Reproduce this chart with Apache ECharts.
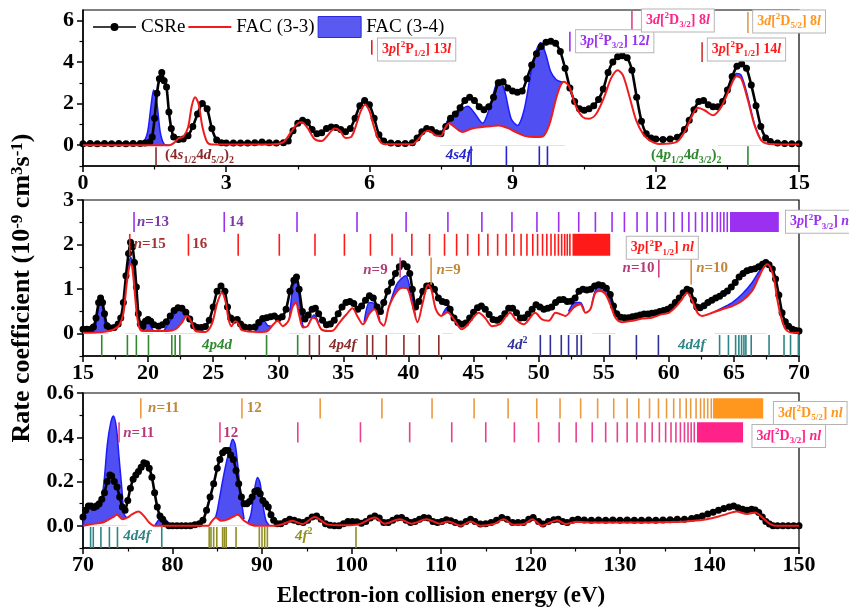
<!DOCTYPE html>
<html>
<head>
<meta charset="utf-8">
<title>Rate coefficient</title>
<script src="https://cdn.jsdelivr.net/npm/echarts@6.0.0/dist/echarts.min.js"></script>
<style>
  html, body { margin: 0; padding: 0; background: #fff; }
  #chart { width: 849px; height: 609px; }
</style>
</head>
<body>
<div id="chart"></div>
<script>
var FONT = '"Liberation Serif", "Times New Roman", serif';

// ---------- panel 1 : 0-15 eV ----------
var p1Csre = [[0,0.07],[0.15,0.08],[0.3,0.07],[0.45,0.08],[0.6,0.07],[0.75,0.08],[0.9,0.07],[1.05,0.08],[1.2,0.08],[1.3,0.1],[1.4,0.15],[1.45,0.4],[1.5,1.3],[1.55,2.5],[1.6,3.2],[1.65,3.5],[1.7,3.1],[1.75,2.8],[1.8,1.6],[1.85,0.8],[1.9,0.4],[2.0,0.28],[2.1,0.3],[2.2,0.45],[2.3,0.9],[2.4,1.5],[2.5,2.0],[2.6,1.75],[2.7,0.8],[2.8,0.25],[2.9,0.12],[3.0,0.1],[3.15,0.1],[3.3,0.1],[3.45,0.11],[3.6,0.12],[3.75,0.15],[3.9,0.12],[4.05,0.1],[4.2,0.12],[4.3,0.2],[4.4,0.7],[4.5,1.05],[4.6,1.2],[4.7,1.1],[4.8,0.75],[4.9,0.55],[5.0,0.6],[5.1,0.8],[5.2,0.88],[5.3,0.85],[5.4,0.75],[5.5,0.65],[5.6,0.8],[5.7,1.3],[5.8,1.9],[5.9,2.15],[6.0,1.95],[6.1,1.3],[6.2,0.5],[6.3,0.2],[6.45,0.1],[6.6,0.08],[6.75,0.08],[6.9,0.12],[7.0,0.35],[7.1,0.65],[7.2,0.8],[7.3,0.75],[7.4,0.6],[7.5,0.55],[7.6,0.9],[7.7,1.3],[7.8,1.5],[7.9,1.8],[8.0,2.15],[8.1,2.3],[8.2,2.15],[8.3,1.85],[8.4,1.7],[8.5,1.85],[8.6,2.3],[8.7,3.0],[8.8,3.05],[8.9,2.75],[9.0,2.6],[9.1,2.55],[9.2,2.6],[9.3,3.2],[9.4,3.85],[9.5,4.4],[9.6,4.75],[9.7,4.95],[9.8,5.0],[9.9,4.9],[10.0,4.5],[10.1,3.7],[10.2,2.75],[10.3,2.1],[10.4,1.75],[10.5,1.68],[10.6,1.75],[10.7,1.9],[10.8,2.2],[10.9,2.7],[11.0,3.5],[11.1,4.0],[11.2,4.25],[11.3,4.3],[11.4,4.2],[11.5,3.6],[11.6,2.3],[11.7,1.15],[11.8,0.55],[11.9,0.35],[12.0,0.3],[12.15,0.28],[12.3,0.3],[12.45,0.38],[12.6,0.75],[12.7,1.2],[12.8,1.7],[12.9,2.1],[13.0,2.15],[13.1,1.95],[13.2,1.85],[13.3,1.85],[13.4,2.1],[13.5,2.65],[13.6,3.3],[13.7,3.8],[13.8,3.9],[13.9,3.7],[14.0,2.9],[14.1,1.9],[14.2,0.9],[14.3,0.35],[14.4,0.18],[14.55,0.1],[14.7,0.08],[14.85,0.07],[15,0.07]];
var p1Fac33 = [[0,0],[1.8,0],[1.9,0.1],[2.0,0.33],[2.1,0.4],[2.2,0.85],[2.28,1.9],[2.35,2.3],[2.42,2.0],[2.5,0.9],[2.6,0.15],[2.7,0.03],[3.5,0.03],[4.0,0.05],[4.2,0.15],[4.35,0.6],[4.5,1.05],[4.58,1.1],[4.7,0.85],[4.85,0.3],[5.0,0.2],[5.12,0.45],[5.27,0.8],[5.38,0.7],[5.5,0.35],[5.62,0.4],[5.72,0.95],[5.82,1.65],[5.91,1.95],[6.0,1.65],[6.1,0.85],[6.2,0.25],[6.32,0.05],[6.9,0.05],[7.02,0.28],[7.15,0.62],[7.25,0.7],[7.38,0.48],[7.5,0.45],[7.58,0.8],[7.67,1.05],[7.77,0.9],[7.95,0.63],[8.15,0.8],[8.37,0.87],[8.72,0.95],[8.9,0.82],[9.07,0.63],[9.25,0.45],[9.45,0.39],[9.63,0.42],[9.77,1.0],[9.9,2.15],[10.0,2.85],[10.08,3.05],[10.19,2.8],[10.33,1.84],[10.47,1.35],[10.6,1.27],[10.75,1.5],[10.92,2.32],[11.06,3.2],[11.2,3.6],[11.31,3.37],[11.45,2.32],[11.59,1.19],[11.73,0.55],[11.87,0.23],[12.07,0.06],[12.43,0.15],[12.6,0.63],[12.78,1.5],[12.88,1.8],[13.02,1.68],[13.2,1.44],[13.37,1.84],[13.55,2.73],[13.69,3.32],[13.79,3.2],[13.93,2.16],[14.07,0.95],[14.21,0.23],[14.38,0.06],[15,0.03]];
var p1Fac34 = [[1.1,0],[1.25,0.1],[1.35,0.6],[1.42,1.8],[1.48,2.65],[1.55,2.0],[1.62,0.6],[1.7,0.05],[1.8,0],[1.85,'-'],
  [7.48,0.45],[7.6,1.0],[7.67,1.3],[7.84,1.5],[7.95,1.75],[8.06,1.87],[8.2,1.55],[8.37,1.06],[8.51,1.75],[8.65,2.89],[8.72,3.13],[8.83,2.64],[8.97,1.27],[9.1,0.95],[9.24,1.68],[9.38,3.44],[9.5,4.58],[9.59,4.94],[9.7,4.34],[9.8,3.53],[9.91,3.16],[10.01,3.05],[10.1,3.02],[10.15,'-'],
  [13.3,1.6],[13.45,2.2],[13.55,2.8],[13.69,3.45],[13.79,3.36],[13.93,2.3],[14.07,1.0],[14.2,0.25]];
var p1Res4s4d = [1.53];
var p1Res4s4f = [8.13, 8.87, 9.56, 9.73];
var p1Res4p4d = [13.93];
var p1Res3p12n13 = [6.05];
var p1Res3p32n12 = [10.2];
var p1Res3d32n8 = [11.5];
var p1Res3p12n14 = [12.97];
var p1Res3d52n8 = [13.93];
var p1YTicks = [0, 2, 4, 6];
var p1YMinor = [-1, 1, 3, 5];

// ---------- panel 2 : 15-70 eV ----------
var p2Csre = [[15,0.1],[15.3,0.1],[15.6,0.1],[15.8,0.15],[16.0,0.35],[16.2,0.7],[16.35,0.8],[16.5,0.7],[16.65,0.45],[16.85,0.18],[17.1,0.13],[17.4,0.14],[17.7,0.22],[17.9,0.35],[18.1,0.7],[18.3,1.3],[18.5,1.8],[18.65,2.05],[18.8,1.95],[18.95,1.6],[19.1,1.05],[19.25,0.45],[19.4,0.22],[19.6,0.17],[19.8,0.28],[20.0,0.32],[20.2,0.28],[20.45,0.2],[20.8,0.17],[21.1,0.2],[21.4,0.27],[21.7,0.4],[22.0,0.52],[22.3,0.58],[22.6,0.57],[22.9,0.48],[23.2,0.33],[23.5,0.18],[23.8,0.14],[24.1,0.14],[24.4,0.16],[24.7,0.3],[25.0,0.6],[25.3,0.95],[25.6,1.07],[25.9,0.95],[26.1,0.6],[26.35,0.35],[26.6,0.3],[26.85,0.32],[27.1,0.22],[27.4,0.15],[27.8,0.14],[28.2,0.15],[28.5,0.25],[28.8,0.34],[29.1,0.36],[29.4,0.38],[29.7,0.4],[30.0,0.34],[30.3,0.38],[30.6,0.55],[30.9,0.95],[31.2,1.2],[31.4,1.27],[31.6,1.0],[31.85,0.5],[32.05,0.33],[32.3,0.42],[32.6,0.55],[32.85,0.57],[33.1,0.45],[33.4,0.3],[33.7,0.2],[34.0,0.22],[34.3,0.3],[34.6,0.45],[34.9,0.6],[35.2,0.7],[35.5,0.72],[35.8,0.68],[36.1,0.55],[36.4,0.62],[36.7,0.75],[37.0,0.85],[37.3,0.8],[37.6,0.6],[37.85,0.5],[38.1,0.7],[38.4,0.95],[38.7,1.15],[39.0,1.35],[39.3,1.5],[39.6,1.57],[39.9,1.5],[40.1,1.35],[40.3,1.0],[40.55,0.6],[40.8,0.72],[41.1,0.95],[41.4,1.07],[41.7,1.08],[42.0,1.0],[42.3,0.8],[42.6,0.72],[42.9,0.7],[43.2,0.55],[43.5,0.35],[43.8,0.25],[44.1,0.21],[44.4,0.24],[44.7,0.35],[45.0,0.48],[45.3,0.58],[45.6,0.62],[45.9,0.55],[46.2,0.43],[46.5,0.32],[46.8,0.3],[47.1,0.34],[47.4,0.45],[47.7,0.57],[48.0,0.57],[48.3,0.47],[48.6,0.35],[48.9,0.36],[49.2,0.44],[49.5,0.55],[49.8,0.65],[50.1,0.6],[50.4,0.55],[50.7,0.57],[51.0,0.6],[51.3,0.7],[51.6,0.76],[51.9,0.77],[52.2,0.72],[52.5,0.73],[52.8,0.8],[53.1,0.95],[53.4,1.0],[53.7,0.98],[54.0,1.0],[54.3,1.07],[54.6,1.1],[54.9,1.08],[55.2,1.02],[55.5,0.88],[55.75,0.62],[56.0,0.45],[56.3,0.37],[56.6,0.36],[56.9,0.36],[57.2,0.38],[57.5,0.4],[57.8,0.42],[58.1,0.44],[58.4,0.44],[58.7,0.46],[59.0,0.47],[59.3,0.5],[59.6,0.52],[59.9,0.55],[60.2,0.6],[60.5,0.7],[60.8,0.8],[61.1,0.92],[61.4,1.0],[61.65,0.97],[61.9,0.75],[62.15,0.6],[62.4,0.58],[62.7,0.63],[63.0,0.7],[63.3,0.75],[63.6,0.8],[63.9,0.84],[64.2,0.9],[64.5,0.96],[64.8,1.05],[65.1,1.15],[65.4,1.27],[65.7,1.35],[66.0,1.41],[66.3,1.44],[66.6,1.46],[66.9,1.5],[67.2,1.56],[67.45,1.6],[67.7,1.55],[67.95,1.45],[68.2,1.23],[68.45,0.87],[68.7,0.47],[68.95,0.27],[69.2,0.17],[69.5,0.1],[69.75,0.07],[70,0.06]];
var p2Fac33 = [[15,0.02],[16.0,0.03],[16.8,0.05],[17.4,0.1],[17.8,0.2],[18.1,0.45],[18.35,1.1],[18.55,1.5],[18.67,1.57],[18.8,1.45],[19.0,0.85],[19.15,0.4],[19.35,0.12],[19.6,0.06],[21.5,0.06],[22.1,0.1],[22.6,0.25],[22.95,0.4],[23.1,0.38],[23.35,0.25],[23.65,0.06],[24.4,0.04],[24.9,0.22],[25.3,0.68],[25.67,0.92],[25.95,0.72],[26.2,0.3],[26.4,0.17],[26.7,0.28],[26.95,0.22],[27.2,0.08],[28.5,0.04],[29.1,0.05],[29.6,0.2],[29.95,0.29],[30.35,0.17],[30.8,0.3],[31.1,0.6],[31.35,0.7],[31.6,0.42],[31.9,0.14],[32.25,0.17],[32.65,0.36],[32.9,0.33],[33.3,0.1],[33.8,0.06],[34.2,0.07],[34.7,0.25],[35.2,0.42],[35.7,0.57],[36.1,0.38],[36.5,0.21],[37.0,0.45],[37.4,0.55],[37.8,0.27],[38.1,0.18],[38.5,0.6],[39.05,0.92],[39.55,1.03],[39.95,1.0],[40.3,0.65],[40.7,0.26],[41.1,0.7],[41.5,1.1],[41.75,1.0],[42.1,0.55],[42.5,0.4],[43.0,0.48],[43.5,0.32],[44.1,0.1],[44.6,0.22],[45.4,0.47],[45.9,0.35],[46.4,0.17],[47.05,0.22],[47.8,0.47],[48.3,0.3],[48.85,0.21],[49.74,0.47],[50.26,0.32],[50.77,0.29],[51.3,0.47],[51.67,0.44],[52.05,0.4],[52.7,0.59],[53.2,0.66],[53.6,0.47],[53.97,0.55],[54.36,0.92],[54.74,0.96],[55.13,0.89],[55.5,0.66],[55.9,0.36],[56.4,0.26],[57.2,0.29],[57.95,0.34],[58.7,0.36],[59.5,0.44],[60.0,0.47],[60.5,0.59],[61.0,0.77],[61.4,0.92],[61.8,0.74],[62.2,0.47],[62.56,0.4],[63.33,0.47],[64.1,0.55],[64.87,0.62],[65.64,0.74],[66.4,0.96],[66.9,1.26],[67.3,1.49],[67.56,1.56],[67.8,1.49],[68.08,1.23],[68.33,0.77],[68.6,0.4],[68.97,0.1],[69.5,0.02],[70,0.02]];
var p2Fac34 = [[15.8,0.03],[16.0,0.2],[16.2,0.6],[16.36,0.74],[16.55,0.5],[16.75,0.15],[17.0,0.05],[17.1,'-'],
  [18.25,0.85],[18.45,1.45],[18.67,1.71],[18.85,1.5],[19.05,0.7],[19.1,'-'],
  [19.6,0.06],[19.8,0.2],[19.95,0.29],[20.15,0.2],[20.4,0.06],[20.5,'-'],
  [21.2,0.06],[21.6,0.25],[22.1,0.47],[22.5,0.59],[22.9,0.51],[23.2,0.36],[23.5,0.15],[23.7,0.06],[23.8,'-'],
  [28.2,0.04],[28.6,0.2],[28.9,0.29],[29.2,0.18],[29.5,0.17],[29.6,'-'],
  [30.85,0.32],[31.1,1.0],[31.36,1.23],[31.6,0.85],[31.87,0.2],[32.0,0.15],[32.1,'-'],
  [32.35,0.22],[32.75,0.42],[33.1,0.25],[33.2,'-'],
  [36.6,0.26],[37.0,0.7],[37.4,0.66],[37.8,0.3],[37.9,'-'],
  [38.4,0.5],[39.05,1.08],[39.4,1.22],[39.8,1.3],[40.2,0.9],[40.55,0.38],[40.6,'-'],
  [42.6,0.42],[43.0,0.6],[43.4,0.36],[43.5,'-'],
  [52.3,0.5],[52.8,0.7],[53.2,0.7],[53.5,0.52],[53.6,'-'],
  [54.1,0.68],[54.4,1.0],[54.74,1.08],[55.13,1.04],[55.5,0.74],[55.9,0.38],[56.0,'-'],
  [63.5,0.49],[64.1,0.58],[64.87,0.7],[65.64,0.89],[66.4,1.15],[66.9,1.38],[67.3,1.53],[67.5,1.57]];
var p2Res3p32 = [18.92, 25.85, 31.44, 36.05, 39.82, 43.03, 45.64, 47.95, 49.87, 51.54, 53.08, 54.36, 55.64, 56.59, 57.56, 58.33, 59.1, 59.74, 60.38, 61.03, 61.54, 62.05, 62.56, 62.95, 63.33, 63.72, 63.97, 64.23, 64.49];
var p2Block3p32 = [64.7, 68.45];
var p2Res3p12 = [18.59, 23.1, 26.92, 30.08, 32.82, 35.08, 37.08, 38.74, 40.26, 41.62, 42.77, 43.7, 44.55, 45.4, 46.1, 46.85, 47.5, 48.1, 48.65, 49.1, 49.55, 49.92, 50.3, 50.63, 50.95, 51.25, 51.52, 51.77, 52.0, 52.2, 52.4];
var p2Block3p12 = [52.6, 55.5];
var p2Res3d32 = [39.36, 59.23];
var p2Res3d52 = [41.74, 61.72];
var p2Res4p4d = [16.44, 18.41, 19.1, 20.03, 21.82, 22.08, 22.44, 29.1, 31.49];
var p2Res4p4f = [32.4, 33.15, 36.82, 37.25, 38.3, 39.65, 40.83, 42.33];
var p2Res4d2 = [50.13, 50.9, 51.74, 52.3, 52.95, 53.28, 55.46, 57.51, 59.2];
var p2Res4d4f = [63.9, 64.58, 65.13, 65.38, 65.59, 65.77, 65.92, 66.33, 67.7, 68.85, 69.35, 69.95];
var p2YTicks = [0, 1, 2, 3];
var p2YMinor = [-0.5, 0.5, 1.5, 2.5];

// ---------- panel 3 : 70-150 eV ----------
var p3Csre = [[70.0,0.04],[70.3,0.07],[70.6,0.09],[70.9,0.09],[71.2,0.083],[71.5,0.09],[71.8,0.1],[72.1,0.12],[72.4,0.15],[72.7,0.2],[73.0,0.23],[73.2,0.225],[73.5,0.2],[73.8,0.175],[74.1,0.13],[74.4,0.085],[74.7,0.07],[75.0,0.115],[75.3,0.17],[75.6,0.21],[75.9,0.23],[76.2,0.245],[76.5,0.265],[76.8,0.285],[77.1,0.28],[77.4,0.26],[77.7,0.22],[78.0,0.15],[78.3,0.085],[78.6,0.045],[78.9,0.03],[79.2,0.01],[79.6,0.0],[80.0,0.0],[80.5,0.0],[81.0,0.0],[81.5,0.0],[82.0,0.0],[82.5,0.005],[83.0,0.01],[83.4,0.025],[83.8,0.07],[84.2,0.13],[84.6,0.19],[85.0,0.26],[85.3,0.3],[85.6,0.33],[85.9,0.34],[86.2,0.34],[86.5,0.32],[86.8,0.3],[87.1,0.25],[87.4,0.19],[87.7,0.13],[88.0,0.1],[88.3,0.1],[88.6,0.11],[88.9,0.13],[89.2,0.155],[89.5,0.16],[89.8,0.145],[90.1,0.115],[90.4,0.1],[90.7,0.085],[91.0,0.05],[91.3,0.025],[91.7,0.01],[92.1,0.01],[92.6,0.02],[93.1,0.03],[93.6,0.025],[94.1,0.018],[94.6,0.015],[95.1,0.025],[95.6,0.04],[96.1,0.045],[96.6,0.03],[97.1,0.01],[97.6,0.003],[98.1,0.0],[98.6,0.0],[99.1,0.01],[99.6,0.02],[100.1,0.02],[100.6,0.018],[101.1,0.012],[101.6,0.02],[102.1,0.035],[102.6,0.045],[103.1,0.035],[103.6,0.015],[104.1,0.015],[104.6,0.025],[105.1,0.035],[105.6,0.038],[106.1,0.025],[106.6,0.015],[107.1,0.02],[107.6,0.03],[108.1,0.038],[108.6,0.035],[109.1,0.02],[109.6,0.015],[110.1,0.02],[110.6,0.028],[111.1,0.023],[111.6,0.015],[112.2,0.008],[112.8,0.02],[113.3,0.03],[113.8,0.02],[114.4,0.008],[115.0,0.01],[115.6,0.015],[116.2,0.025],[116.8,0.038],[117.4,0.03],[118.0,0.015],[118.6,0.015],[119.2,0.015],[119.8,0.03],[120.3,0.038],[120.9,0.02],[121.4,0.008],[122.0,0.02],[122.6,0.028],[123.1,0.03],[123.6,0.02],[124.1,0.015],[124.7,0.025],[125.3,0.03],[126.0,0.027],[126.8,0.025],[127.6,0.027],[128.4,0.025],[129.2,0.027],[130.0,0.025],[130.8,0.027],[131.6,0.025],[132.4,0.025],[133.2,0.027],[134.0,0.025],[134.8,0.027],[135.6,0.028],[136.4,0.03],[137.2,0.03],[138.0,0.033],[138.6,0.038],[139.2,0.045],[139.8,0.053],[140.4,0.062],[141.0,0.07],[141.6,0.078],[142.2,0.085],[142.7,0.09],[143.2,0.082],[143.7,0.075],[144.2,0.07],[144.7,0.075],[145.1,0.072],[145.5,0.06],[145.9,0.04],[146.3,0.02],[146.7,0.008],[147.1,0.0],[147.6,0.0],[148.2,0.0],[148.8,0.0],[149.4,0.0],[150,0.0]];
var p3Fac33 = [[70,0.0],[71.0,0.008],[72.2,0.015],[73.3,0.038],[73.8,0.05],[74.4,0.03],[75.0,0.038],[75.5,0.053],[76.2,0.065],[76.8,0.045],[77.4,0.015],[78.0,0.0],[84.0,0.0],[84.3,0.015],[84.85,0.038],[85.4,0.023],[86.2,0.03],[86.7,0.04],[87.3,0.05],[88.0,0.023],[88.8,0.005],[89.5,0.0],[91.5,0.0],[92.3,0.008],[93.4,0.023],[94.5,0.008],[95.9,0.04],[97.2,0.008],[98.5,0.003],[99.8,0.003],[100.9,0.008],[102.6,0.038],[103.7,0.01],[105.4,0.03],[106.7,0.01],[108.4,0.03],[109.85,0.01],[110.8,0.02],[112.2,0.0],[113.3,0.02],[114.4,0.0],[115.9,0.008],[117.0,0.03],[118.1,0.005],[119.3,0.008],[120.2,0.03],[121.3,0.0],[122.2,0.015],[123.0,0.025],[123.9,0.008],[125.2,0.018],[127.0,0.015],[130,0.015],[133,0.015],[136,0.017],[138,0.022],[139.7,0.03],[141.0,0.042],[141.9,0.053],[143.0,0.065],[144.2,0.053],[145.1,0.06],[145.9,0.038],[146.8,0.008],[147.5,0.0],[150,0.0]];
var p3Fac34 = [[70.0,0.0],[70.3,0.06],[70.6,0.09],[70.86,0.098],[71.23,0.09],[71.6,0.075],[71.98,0.098],[72.35,0.2],[72.72,0.368],[73.1,0.466],[73.4,0.496],[73.73,0.444],[74.03,0.308],[74.33,0.173],[74.6,0.053],[74.9,0.036],[75.0,'-'],
  [78.0,0.0],[78.5,0.03],[78.88,0.045],[79.33,0.023],[79.8,0.002],[79.9,'-'],
  [84.3,0.015],[84.85,0.045],[85.2,0.113],[85.6,0.203],[85.97,0.278],[86.34,0.338],[86.72,0.391],[87.0,0.368],[87.28,0.278],[87.65,0.128],[88.0,0.03],[88.1,'-'],
  [88.4,0.012],[88.77,0.053],[89.14,0.158],[89.5,0.218],[89.78,0.195],[90.15,0.083],[90.45,0.023],[90.8,0.002],[90.9,'-'],
  [99.5,0.003],[100.1,0.03],[100.6,0.01]];
var p3Res3d52 = [76.46, 87.76, 96.5, 103.4, 109.0, 113.7, 117.5, 120.7, 123.3, 125.6, 127.5, 129.3, 130.8, 132.1, 133.3, 134.3, 135.2, 136.0, 136.7, 137.4, 137.9, 138.5, 139.0, 139.4, 139.8, 140.2];
var p3Block3d52 = [140.4, 146.0];
var p3Res3d32 = [74.03, 85.3, 94.0, 101.0, 106.5, 111.2, 115.0, 118.2, 120.9, 123.2, 125.1, 126.9, 128.4, 129.7, 130.8, 131.9, 132.8, 133.6, 134.4, 135.1, 135.7, 136.25, 136.75, 137.2, 137.6, 137.95, 138.3];
var p3Block3d32 = [138.6, 143.75];
var p3Res4d4f = [70.85, 71.15, 72.0, 72.95, 73.85, 78.8];
var p3Res4f2 = [84.1, 84.3, 84.6, 84.95, 85.6, 85.8, 86.0, 87.1, 89.7, 90.0, 90.3, 90.6, 100.5];
var p3YTicks = [0, 0.2, 0.4, 0.6];
var p3YMinor = [-0.1, 0.1, 0.3, 0.5];

// ---------- layout ----------
var panels = [
  {top: 10,  height: 156, xMin: 0,  xMax: 15,  xStep: 3,  yMin: -1,   yMax: 6.5, ticks: p1YTicks, minor: p1YMinor, digits: 0},
  {top: 200, height: 156, xMin: 15, xMax: 70,  xStep: 5,  yMin: -0.5, yMax: 3,   ticks: p2YTicks, minor: p2YMinor, digits: 0},
  {top: 393, height: 155, xMin: 70, xMax: 150, xStep: 10, yMin: -0.1, yMax: 0.6, ticks: p3YTicks, minor: p3YMinor, digits: 1}
];

var C = {
  red: '#ff1a1a', purple: '#9b30f0', pink: '#ff2288', orange: '#ff961e',
  darkred: '#8b2a2a', blue: '#2323d0', green: '#2f8a2f', navy: '#30309a',
  teal: '#2e8585', olive: '#8f8f22', nPurple: '#7a3aa8', nRed: '#a83030',
  nPink: '#b53a78', nOrange: '#c08838'
};

var marks = [
  {p: 0, pos: p1Res4s4d, y: [-0.1, -1], color: C.darkred},
  {p: 0, pos: p1Res4s4f, y: [-0.05, -1], color: C.blue},
  {p: 0, pos: p1Res4p4d, y: [-0.05, -1], color: C.green},
  {p: 0, pos: p1Res3p12n13, y: [4.35, 5.05], color: '#e02020'},
  {p: 0, pos: p1Res3p32n12, y: [4.5, 5.45], color: C.purple},
  {p: 0, pos: p1Res3d32n8, y: [5.55, 6.45], color: '#e0408a'},
  {p: 0, pos: p1Res3p12n14, y: [4.0, 4.95], color: '#d03030'},
  {p: 0, pos: p1Res3d52n8, y: [5.4, 6.4], color: '#e09a50'},
  {p: 1, pos: p2Res3p32, y: [2.28, 2.73], color: C.purple},
  {p: 1, pos: p2Res3p12, y: [1.75, 2.24], color: C.red},
  {p: 1, pos: p2Res3d32, y: [1.26, 1.71], color: '#d04088'},
  {p: 1, pos: p2Res3d52, y: [1.1, 1.71], color: '#d89040'},
  {p: 1, pos: p2Res4p4d, y: [-0.03, -0.5], color: C.green},
  {p: 1, pos: p2Res4p4f, y: [-0.03, -0.5], color: C.darkred},
  {p: 1, pos: p2Res4d2, y: [-0.03, -0.5], color: C.navy},
  {p: 1, pos: p2Res4d4f, y: [-0.03, -0.5], color: C.teal},
  {p: 2, pos: p3Res3d52, y: [0.485, 0.576], color: '#eb9a40'},
  {p: 2, pos: p3Res3d32, y: [0.377, 0.468], color: '#e8408e'},
  {p: 2, pos: p3Res4d4f, y: [-0.005, -0.1], color: C.teal},
  {p: 2, pos: p3Res4f2, y: [-0.005, -0.1], color: C.olive}
];

var blocks = [
  {p: 1, range: p2Block3p32, y: [2.28, 2.73], color: C.purple},
  {p: 1, range: p2Block3p12, y: [1.75, 2.24], color: C.red},
  {p: 2, range: p3Block3d52, y: [0.485, 0.576], color: C.orange},
  {p: 2, range: p3Block3d32, y: [0.377, 0.468], color: C.pink}
];

function term(shell, L, j, n) {
  return '{b|3}{i|' + shell + '}{b|[}{sup|2}{b|' + L + '}{sub|' + j + '}{b|] ' + n + '}{i|' + (n ? 'l' : 'nl') + '}';
}

var labels = [
  {p: 0, x: 1.72, y: -0.5, text: '{b|(4}{i|s}{sub|1/2}{b|4}{i|d}{sub|5/2}{b|)}{sub|2}', color: C.darkred},
  {p: 0, x: 7.6, y: -0.5, text: '{i|4s4f}', color: C.blue},
  {p: 0, x: 11.9, y: -0.5, text: '{b|(4}{i|p}{sub|1/2}{b|4}{i|d}{sub|3/2}{b|)}{sub|2}', color: C.green},
  {p: 0, x: 6.18, y: 4.6, text: term('p', 'P', '1/2', '13'), color: C.red, box: true},
  {p: 0, x: 10.33, y: 5.0, text: term('p', 'P', '3/2', '12'), color: C.purple, box: true},
  {p: 0, x: 11.71, y: 6.0, text: term('d', 'D', '3/2', '8'), color: C.pink, box: true},
  {p: 0, x: 13.09, y: 4.6, text: term('p', 'P', '1/2', '14'), color: C.red, box: true},
  {p: 0, x: 14.04, y: 5.95, text: term('d', 'D', '5/2', '8'), color: C.orange, box: true},
  {p: 1, x: 19.15, y: 2.5, text: '{i|n}{b|=13}', color: C.nPurple},
  {p: 1, x: 26.2, y: 2.5, text: '{b|14}', color: C.nPurple},
  {p: 1, x: 18.9, y: 2.0, text: '{i|n}{b|=15}', color: C.nRed},
  {p: 1, x: 23.4, y: 2.0, text: '{b|16}', color: C.nRed},
  {p: 1, x: 38.4, y: 1.43, text: '{i|n}{b|=9}', color: C.nPink, align: 'right'},
  {p: 1, x: 42.15, y: 1.43, text: '{i|n}{b|=9}', color: C.nOrange},
  {p: 1, x: 58.9, y: 1.48, text: '{i|n}{b|=10}', color: C.nPink, align: 'right'},
  {p: 1, x: 62.1, y: 1.48, text: '{i|n}{b|=10}', color: C.nOrange},
  {p: 1, x: 24.15, y: -0.25, text: '{i|4p4d}', color: C.green},
  {p: 1, x: 33.9, y: -0.25, text: '{i|4p4f}', color: C.darkred},
  {p: 1, x: 47.6, y: -0.25, text: '{i|4d}{sup|2}', color: C.navy},
  {p: 1, x: 60.7, y: -0.25, text: '{i|4d4f}', color: C.teal},
  {p: 1, x: 56.77, y: 1.93, text: term('p', 'P', '1/2', ''), color: C.red, box: true},
  {p: 1, x: 69.0, y: 2.51, text: term('p', 'P', '3/2', ''), color: C.purple, box: true},
  {p: 2, x: 77.27, y: 0.53, text: '{i|n}{b|=11}', color: C.nOrange},
  {p: 2, x: 88.3, y: 0.53, text: '{b|12}', color: C.nOrange},
  {p: 2, x: 74.5, y: 0.42, text: '{i|n}{b|=11}', color: C.nPink},
  {p: 2, x: 85.66, y: 0.42, text: '{b|12}', color: C.nPink},
  {p: 2, x: 74.5, y: -0.045, text: '{i|4d4f}', color: C.teal},
  {p: 2, x: 93.7, y: -0.045, text: '{i|4f}{sup|2}', color: C.olive},
  {p: 2, x: 147.2, y: 0.51, text: term('d', 'D', '5/2', ''), color: C.orange, box: true},
  {p: 2, x: 144.8, y: 0.406, text: term('d', 'D', '3/2', ''), color: C.pink, box: true}
];

// legend glyphs drawn inside a 43x21 box (corner specks keep the box size)
var ICON_DOT = 'path://M0,0h0.1v0.1h-0.1z M0,9.7h17.5v1.6h-17.5z M25.5,9.7h17.5v1.6h-17.5z M17.5,10.5a4,4 0 1 1 8,0a4,4 0 1 1 -8,0z M42.9,20.9h0.1v0.1h-0.1z';
var ICON_LINE = 'path://M0,0h0.1v0.1h-0.1z M0,9.5h43v2h-43z M42.9,20.9h0.1v0.1h-0.1z';

function rich(color, size) {
  var small = Math.round(size * 0.64);
  return {
    b: {fill: color, fontFamily: FONT, fontWeight: 'bold', fontSize: size, lineHeight: size + 4},
    i: {fill: color, fontFamily: FONT, fontWeight: 'bold', fontStyle: 'italic', fontSize: size, lineHeight: size + 4},
    sup: {fill: color, fontFamily: FONT, fontWeight: 'bold', fontSize: small, lineHeight: small + 1, verticalAlign: 'top'},
    sub: {fill: color, fontFamily: FONT, fontWeight: 'bold', fontSize: small, lineHeight: small + 1, verticalAlign: 'bottom'}
  };
}

var grids = [], xAxes = [], yAxes = [], series = [];

panels.forEach(function (P, p) {
  grids.push({left: 83, width: 716, top: P.top, height: P.height, show: true, borderColor: '#000', borderWidth: 1.2, backgroundColor: 'transparent'});
  xAxes.push({
    gridIndex: p, type: 'value', min: P.xMin, max: P.xMax, interval: P.xStep,
    axisLine: {onZero: false, lineStyle: {color: '#000', width: 1.5}},
    axisTick: {length: 6, lineStyle: {color: '#000', width: 1.5}},
    minorTick: {show: true, splitNumber: 2, length: 3.5, lineStyle: {color: '#000', width: 1.2}},
    splitLine: {show: false},
    axisLabel: {fontFamily: FONT, fontWeight: 'bold', fontSize: 22, color: '#000', margin: 6}
  });
  yAxes.push({
    gridIndex: p, type: 'value', min: P.yMin, max: P.yMax, position: 'left',
    axisLine: {onZero: false, lineStyle: {color: '#000', width: 1.5}},
    axisTick: {customValues: P.ticks, length: 6, lineStyle: {color: '#000', width: 1.5}},
    splitLine: {show: false},
    axisLabel: {customValues: P.ticks, margin: 9, fontFamily: FONT, fontWeight: 'bold', fontSize: 22, color: '#000',
      formatter: function (v) { return Number(v).toFixed(P.digits); }}
  });
  yAxes.push({
    gridIndex: p, type: 'value', min: P.yMin, max: P.yMax, position: 'left',
    axisLine: {show: false},
    axisTick: {customValues: P.minor, length: 3.5, lineStyle: {color: '#000', width: 1.2}},
    axisLabel: {show: false},
    splitLine: {show: false}
  });
});

var curves = [[p1Csre, p1Fac33, p1Fac34], [p2Csre, p2Fac33, p2Fac34], [p3Csre, p3Fac33, p3Fac34]];
curves.forEach(function (c, p) {
  var common = {type: 'line', xAxisIndex: p, yAxisIndex: 2 * p, animation: false, emphasis: {disabled: true}, silent: true};
  series.push(Object.assign({}, common, {
    name: 'FAC (3-4)', data: c[2], symbol: 'none', smooth: 0.3, connectNulls: false, z: 2,
    lineStyle: {color: '#1c1cff', width: 1.5}, itemStyle: {color: '#4d4df2'},
    areaStyle: {color: '#4f4ff2', opacity: 1}
  }));
  series.push(Object.assign({}, common, {
    name: 'mask', data: c[1], symbol: 'none', smooth: 0.3, z: 3,
    lineStyle: {width: 0, opacity: 0}, areaStyle: {color: '#fff', opacity: 1}
  }));
  series.push(Object.assign({}, common, {
    name: 'CSRe', data: c[0], symbol: 'circle', symbolSize: 7, smooth: 0.2, z: 4,
    lineStyle: {color: '#000', width: 2.6}, itemStyle: {color: '#000'}
  }));
  series.push(Object.assign({}, common, {
    name: 'FAC (3-3)', data: c[1], symbol: 'none', smooth: 0.3, z: 5,
    lineStyle: {color: '#ee1c1c', width: 2}, itemStyle: {color: '#ee1c1c'}
  }));
});

marks.forEach(function (g) {
  series.push({
    type: 'custom', xAxisIndex: g.p, yAxisIndex: 2 * g.p, silent: true, clip: false, z: 6, animation: false,
    data: g.pos.map(function (e) { return [e, g.y[0]]; }),
    encode: {x: 0, y: 1},
    renderItem: function (params, api) {
      var a = api.coord([api.value(0), g.y[0]]);
      var b = api.coord([api.value(0), g.y[1]]);
      return {type: 'line', shape: {x1: a[0], y1: a[1], x2: b[0], y2: b[1]}, style: {stroke: g.color, lineWidth: 1.6}};
    }
  });
});

blocks.forEach(function (g) {
  series.push({
    type: 'custom', xAxisIndex: g.p, yAxisIndex: 2 * g.p, silent: true, clip: false, z: 6, animation: false,
    data: [[g.range[0], g.range[1]]],
    encode: {x: [0, 1]},
    renderItem: function (params, api) {
      var a = api.coord([api.value(0), g.y[1]]);
      var b = api.coord([api.value(1), g.y[0]]);
      return {type: 'rect', shape: {x: a[0], y: a[1], width: b[0] - a[0], height: b[1] - a[1]}, style: {fill: g.color}};
    }
  });
});

[0, 1, 2].forEach(function (p) {
  var list = labels.filter(function (l) { return l.p === p; });
  series.push({
    type: 'custom', xAxisIndex: p, yAxisIndex: 2 * p, silent: true, clip: false, z: 7, animation: false,
    data: list.map(function (l, i) { return [l.x, l.y, i]; }),
    encode: {x: 0, y: 1},
    renderItem: function (params, api) {
      var l = list[api.value(2)];
      var pt = api.coord([api.value(0), api.value(1)]);
      var size = l.box ? 14 : 15;
      var st = {
        text: l.text, rich: rich(l.color, size), fill: l.color,
        fontFamily: FONT, fontWeight: 'bold', fontSize: size,
        align: l.align || 'left', verticalAlign: 'middle'
      };
      if (l.box) {
        st.backgroundColor = '#fff';
        st.borderColor = '#b4b4b4';
        st.borderWidth = 1;
        st.padding = [2, 4, 2, 4];
      }
      return {type: 'text', x: pt[0], y: pt[1], style: st};
    }
  });
});

var chart = echarts.init(document.getElementById('chart'), null, {renderer: 'canvas'});
chart.setOption({
  animation: false,
  backgroundColor: '#fff',
  grid: grids,
  xAxis: xAxes,
  yAxis: yAxes,
  legend: {
    left: 88, top: 11, itemWidth: 43, itemHeight: 21, itemGap: 3, selectedMode: false,
    textStyle: {fontFamily: FONT, fontSize: 19, color: '#000'},
    data: [
      {name: 'CSRe', icon: ICON_DOT, itemStyle: {color: '#000', borderWidth: 0}},
      {name: 'FAC (3-3)', icon: ICON_LINE, itemStyle: {color: '#ee1c1c', borderWidth: 0}},
      {name: 'FAC (3-4)', icon: 'rect', itemStyle: {color: '#5a5af0', borderColor: '#2a2ad8', borderWidth: 1}}
    ]
  },
  graphic: [
    {type: 'text', x: 22, y: 288, rotation: Math.PI / 2, silent: true,
     style: {text: 'Rate coefficient (10{sup|-9} cm{sup|3}s{sup|-1})', align: 'center', verticalAlign: 'middle',
       fill: '#000', fontFamily: FONT, fontWeight: 'bold', fontSize: 26,
       rich: {
         sup: {fill: '#000', fontFamily: FONT, fontWeight: 'bold', fontSize: 17, lineHeight: 16, verticalAlign: 'top'}
       }}},
    {type: 'text', x: 441, y: 596, silent: true,
     style: {text: 'Electron-ion collision energy (eV)', align: 'center', verticalAlign: 'middle',
       fill: '#000', fontFamily: FONT, fontWeight: 'bold', fontSize: 23}}
  ],
  series: series
});
</script>
</body>
</html>
